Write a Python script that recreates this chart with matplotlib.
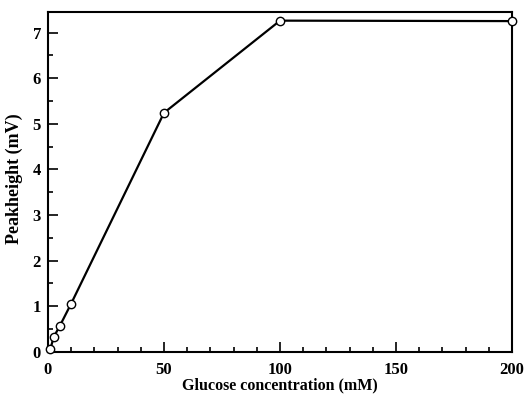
import matplotlib
matplotlib.use("Agg")
from matplotlib import pyplot as plt
from matplotlib.ticker import MultipleLocator

# glucose calibration data
glucose = [1, 2.5, 5, 10, 50, 100, 200]
peak = [0.06, 0.33, 0.56, 1.06, 5.24, 7.26, 7.25]

plt.rcParams["font.family"] = "Liberation Serif"
plt.rcParams["font.weight"] = "bold"

fig = plt.figure(figsize=(5.25, 3.99), dpi=100)
ax = fig.add_axes([0.0914, 0.118, 0.884, 0.852])

ax.plot(glucose, peak, color="black", linewidth=1.6, marker="o",
        markersize=6, markerfacecolor="white", markeredgecolor="black",
        markeredgewidth=1.0, clip_on=False, zorder=3)

ax.set_xlim(0, 200)
ax.set_ylim(0, 7.45)
ax.xaxis.set_major_locator(MultipleLocator(50))
ax.xaxis.set_minor_locator(MultipleLocator(10))
ax.yaxis.set_major_locator(MultipleLocator(1))
ax.yaxis.set_minor_locator(MultipleLocator(0.5))
ax.tick_params(which="both", direction="in", width=1.2, labelsize=12)
ax.tick_params(which="major", length=7)
ax.tick_params(which="minor", length=3.5)
ax.tick_params(axis="x", pad=7)
ax.tick_params(axis="y", pad=5)
for s in ax.spines.values():
    s.set_linewidth(1.5)

ax.set_xlabel("Glucose concentration (mM)", fontsize=11.5, fontweight="bold")
ax.set_ylabel("Peakheight (mV)", fontsize=13, fontweight="bold")
ax.xaxis.set_label_coords(0.5, -0.075)
ax.yaxis.set_label_coords(-0.054, 0.51)

fig.savefig("out.png", dpi=100)
